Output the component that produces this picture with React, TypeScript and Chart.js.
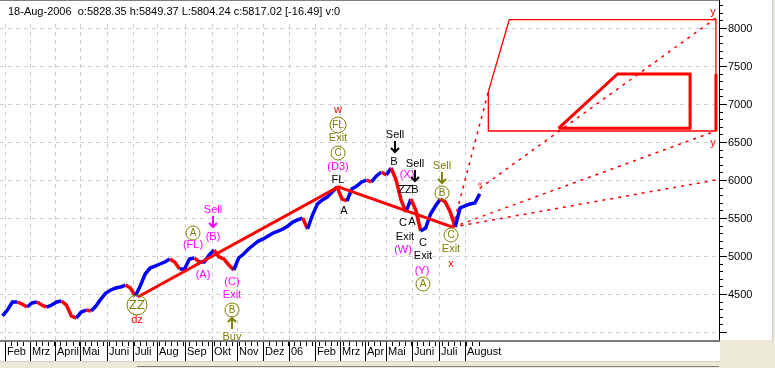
import React, { useEffect, useRef } from 'react';
import { Chart, registerables } from 'chart.js';
Chart.register(...registerables);

// ---------- data ----------
const headerText = '18-Aug-2006  o:5828.35 h:5849.37 L:5804.24 c:5817.02 [-16.49] v:0';

// closes sampled every 4 trading days, starting at trading day 2 (late Jan 2005)
const startDay = 2;
const dayStep = 4;
const closes = [
  4211, 4289, 4395, 4395, 4368, 4329, 4382, 4395, 4355, 4329,
  4355, 4395, 4408, 4355, 4211, 4184, 4263, 4289, 4276, 4342,
  4434, 4513, 4553, 4579, 4592, 4618, 4579, 4474, 4605, 4763,
  4842, 4868, 4895, 4921, 4961, 4921, 4829, 4829, 4961, 4974,
  4921, 4921, 5013, 5079, 4987, 4961, 4882, 4816, 4974, 5026,
  5092, 5145, 5197, 5224, 5263, 5303, 5329, 5355, 5395, 5447,
  5474, 5500, 5355, 5539, 5684, 5737, 5776, 5842, 5908, 5750,
  5724, 5882, 5921, 5974, 6000, 5974, 6053, 6105, 6066, 6158,
  6000, 5737, 5579, 5750, 5605, 5329, 5368, 5553, 5658, 5750,
  5711, 5579, 5382, 5632, 5658, 5684, 5697, 5817,
];

const monthLabels = ['Feb', 'Mrz', 'April', 'Mai', 'Juni', 'Juli', 'Aug', 'Sep', 'Okt', 'Nov', 'Dez', '06', 'Feb', 'Mrz', 'Apr', 'Mai', 'Juni', 'Juli', 'August'];
const monthDays = [4, 24, 45, 65, 87, 108, 128, 150, 172, 193, 214, 235, 256, 276, 297, 314, 335, 357, 378];

const yLabelValues = [4500, 5000, 5500, 6000, 6500, 7000, 7500, 8000];
const yGridValues = [4000, 4500, 5000, 5500, 6000, 6500, 7000, 7500, 8000];

// wave count zig-zag
const zigzagDays = [112, 275, 368];
const zigzagValues = [4460, 5910, 5380];

// projection target zones
const bigZoneDays = [397, 414, 582, 582, 397, 397];
const bigZoneValues = [7162, 8109, 8109, 6645, 6645, 7162];
const innerZoneDays = [454, 502, 561, 561, 454];
const innerZoneValues = [6680, 7395, 7395, 6680, 6680];
const edgeBarDays = [582, 582];
const edgeBarValues = [6645, 7395];

// projection fan lines: [fromDay, fromValue, toDay, toValue]
const fanLines = [
  [368, 5380, 397, 7162],
  [368, 5380, 582, 6645],
  [368, 5380, 582, 6000],
  [390, 5890, 582, 8130],
];

// annotations: [text, day, value, colourKey, kind]
// kind: t = text, c = circled, d = down arrow, u = up arrow, z = overlined, s = small
const annotations = [
  ['Sell', 173, 5605, 'm', 't'], ['', 173, 5447, 'm', 'd'], ['(B)', 173, 5250, 'm', 't'],
  ['A', 157, 5303, 'o', 'c'], ['(FL)', 157, 5145, 'm', 't'],
  ['(A)', 165, 4750, 'm', 't'],
  ['(C)', 189, 4658, 'm', 't'], ['Exit', 189, 4487, 'm', 't'], ['B', 189, 4289, 'o', 'c'],
  ['', 189, 4118, 'o', 'u'], ['Buy', 189, 3935, 'o', 't'],
  ['ZZ', 111, 4355, 'o', 'c'], ['dz', 111, 4158, 'r', 't'],
  ['w', 275, 6921, 'r', 't'], ['FL', 275, 6724, 'o', 'c'], ['Exit', 275, 6553, 'o', 't'],
  ['C', 275, 6355, 'o', 'c'], ['(D3)', 275, 6171, 'm', 't'],
  ['FL', 275, 6000, 'k', 't'], ['A', 280, 5592, 'k', 't'],
  ['Sell', 321, 6592, 'k', 't'], ['', 321, 6434, 'k', 'd'], ['B', 320, 6237, 'k', 't'],
  ['(X)', 331, 6066, 'm', 't'],
  ['Sell', 337, 6211, 'k', 't'], ['', 337, 6053, 'k', 'd'],
  ['ZZ', 329, 5868, 'k', 'z'], ['B', 337, 5868, 'k', 't'],
  ['C', 328, 5434, 'k', 't'], ['A', 335, 5447, 'k', 't'],
  ['Exit', 329, 5250, 'k', 't'], ['(W)', 328, 5079, 'm', 't'],
  ['C', 344, 5171, 'k', 't'], ['Exit', 344, 5000, 'k', 't'],
  ['(Y)', 343, 4803, 'm', 't'], ['A', 344, 4632, 'o', 'c'],
  ['Sell', 359, 6184, 'o', 't'], ['', 359, 6026, 'o', 'd'], ['B', 359, 5829, 'o', 'c'],
  ['C', 367, 5276, 'o', 'c'], ['Exit', 367, 5092, 'o', 't'], ['x', 367, 4895, 'r', 't'],
  ['\u00ab', 390, 5934, 'r', 's'],
  ['y', 580, 8210, 'r', 't'], ['y', 580, 6487, 'r', 't'],
];

const colours: Record<string, string> = { m: '#FF00FF', o: '#808000', r: '#FF0000', k: '#000000' };
const FONT = '"Liberation Sans", Arial, sans-serif';

const decoPlugin = {
  id: 'deco',
  beforeDraw(chart: any) {
    const { ctx, chartArea: ca, scales } = chart;
    const x = scales.x, y = scales.y;
    ctx.save();
    ctx.fillStyle = '#FFFFFF';
    ctx.fillRect(0, 0, chart.width, chart.height);
    ctx.strokeStyle = '#CFCFCF';
    ctx.lineWidth = 1;
    ctx.setLineDash([4, 4]);
    for (const v of yGridValues) {
      const py = Math.round(y.getPixelForValue(v)) + 0.5;
      ctx.beginPath(); ctx.moveTo(ca.left, py); ctx.lineTo(ca.right - 2, py); ctx.stroke();
    }
    for (const d of monthDays) {
      const px = Math.round(x.getPixelForValue(d)) + 0.5;
      ctx.beginPath(); ctx.moveTo(px, y.getPixelForValue(8000) - 4); ctx.lineTo(px, ca.bottom); ctx.stroke();
    }
    ctx.restore();
  },
  afterDatasetsDraw(chart: any) {
    const { ctx, chartArea: ca, scales } = chart;
    const x = scales.x, y = scales.y;
    ctx.save();
    ctx.beginPath();
    ctx.rect(ca.left, ca.top, ca.right - ca.left, ca.bottom - ca.top);
    ctx.clip();
    ctx.textAlign = 'center';
    ctx.textBaseline = 'middle';
    for (const a of annotations) {
      const [text, d, v, ck, kind] = a as [string, number, number, string, string];
      const px = Math.round(x.getPixelForValue(d));
      const py = Math.round(y.getPixelForValue(v));
      const col = colours[ck];
      ctx.fillStyle = col;
      ctx.strokeStyle = col;
      ctx.setLineDash([]);
      if (kind === 't') {
        ctx.font = `11px ${FONT}`;
        ctx.fillText(text, px, py);
      } else if (kind === 's') {
        ctx.font = `9px ${FONT}`;
        ctx.fillText(text, px, py);
      } else if (kind === 'z') {
        ctx.font = `11px ${FONT}`;
        ctx.fillText(text, px, py);
        ctx.lineWidth = 1;
        ctx.beginPath(); ctx.moveTo(px - 7, py - 4.5); ctx.lineTo(px + 8, py - 4.5); ctx.stroke();
      } else if (kind === 'c') {
        const r = text.length > 1 ? (text === 'ZZ' ? 10 : 8) : 7;
        ctx.lineWidth = 1;
        ctx.beginPath(); ctx.arc(px, py, r, 0, Math.PI * 2); ctx.stroke();
        ctx.font = `${text === 'ZZ' ? 13 : 10}px ${FONT}`;
        ctx.fillText(text, px, py + 0.5);
      } else {
        const dir = kind === 'd' ? 1 : -1;
        ctx.lineWidth = 2;
        ctx.beginPath(); ctx.moveTo(px, py - 6 * dir); ctx.lineTo(px, py + 5 * dir); ctx.stroke();
        ctx.beginPath(); ctx.moveTo(px - 4, py + 1 * dir); ctx.lineTo(px, py + 5 * dir); ctx.lineTo(px + 4, py + 1 * dir); ctx.stroke();
      }
    }
    ctx.restore();
  },
  afterDraw(chart: any) {
    const { ctx, chartArea: ca, scales } = chart;
    const x = scales.x, y = scales.y;
    const W = chart.width, H = chart.height;
    ctx.save();
    // header
    ctx.fillStyle = '#000';
    ctx.font = `11px ${FONT}`;
    ctx.textAlign = 'left';
    ctx.textBaseline = 'middle';
    ctx.fillText(headerText, 8, 12);
    // top frame line
    ctx.fillStyle = '#808080';
    ctx.fillRect(0, 0, ca.right, 1);
    // right panel
    ctx.fillStyle = '#FFFFFF';
    ctx.fillRect(ca.right + 1, 0, W - ca.right - 1, ca.bottom);
    ctx.fillStyle = '#C8C8C8';
    ctx.fillRect(772, 0, 1, ca.bottom);
    ctx.fillStyle = '#ECE9D8';
    ctx.fillRect(773, 0, 2, ca.bottom);
    // x axis panel
    ctx.fillStyle = '#FFFFFF';
    ctx.fillRect(0, ca.bottom, ca.right + 1, 21);
    ctx.fillStyle = '#7A7A7A';
    ctx.fillRect(0, ca.bottom, ca.right + 1, 2);
    ctx.fillStyle = '#ECE9D8';
    ctx.fillRect(ca.right + 1, ca.bottom, W - ca.right - 1, H - ca.bottom);
    ctx.fillRect(0, ca.bottom + 22, ca.right + 1, H - ca.bottom - 22);
    ctx.fillStyle = '#D4D0C8';
    ctx.fillRect(0, ca.bottom + 21, ca.right + 1, 1);
    ctx.fillStyle = '#808080';
    ctx.fillRect(137, H - 2, ca.right - 137, 1);
    // x ticks
    ctx.fillStyle = '#000';
    const lastDay = startDay + dayStep * (closes.length - 1);
    for (let d = monthDays[0]; d <= lastDay + 2; d += 5) {
      const px = Math.round(x.getPixelForValue(d));
      ctx.fillRect(px, ca.bottom + 2, 1, 4);
    }
    ctx.textAlign = 'left';
    monthDays.forEach((d, i) => {
      const px = Math.round(x.getPixelForValue(d));
      ctx.fillRect(px, ca.bottom + 2, 1, 19);
      ctx.fillText(monthLabels[i], px + 2, ca.bottom + 12);
    });
    // y axis
    ctx.fillRect(ca.right, 0, 1, ca.bottom);
    for (let v = 4000; v <= 8300; v += 100) {
      const py = Math.round(y.getPixelForValue(v));
      const major = v % 500 === 0;
      ctx.fillRect(ca.right, py, major ? 8 : 4, 1);
    }
    for (const v of yLabelValues) {
      const py = Math.round(y.getPixelForValue(v));
      ctx.fillText(String(v), ca.right + 9, py + 0.5);
    }
    ctx.restore();
  },
};

export default function App() {
  const ref = useRef<HTMLCanvasElement>(null);
  useEffect(() => {
    document.body.style.margin = '0';
    const pts = (ds: number[], vs: number[]) => ds.map((d, i) => ({ x: d, y: vs[i] }));
    const dotted = fanLines.map((f) => ({
      data: [{ x: f[0], y: f[1] }, { x: f[2], y: f[3] }],
      borderColor: '#FF0000', borderWidth: 1.5, borderDash: [3, 5], pointRadius: 0, order: 2,
    }));
    const chart = new Chart(ref.current!, {
      type: 'line',
      data: {
        datasets: [
          { data: pts(zigzagDays, zigzagValues), borderColor: '#FF0000', borderWidth: 3, pointRadius: 0, order: 0 },
          { data: pts(innerZoneDays, innerZoneValues), borderColor: '#FF0000', borderWidth: 3, pointRadius: 0, order: 1 },
          { data: pts(bigZoneDays, bigZoneValues), borderColor: '#FF0000', borderWidth: 1.3, pointRadius: 0, order: 1 },
          { data: pts(edgeBarDays, edgeBarValues), borderColor: '#FF0000', borderWidth: 3, pointRadius: 0, order: 1 },
          ...dotted,
          {
            data: closes.map((c, i) => ({ x: startDay + i * dayStep, y: c })),
            borderColor: '#0000FF', borderWidth: 3.5, pointRadius: 0, order: 5,
            segment: { borderColor: (c: any) => (c.p1.parsed.y >= c.p0.parsed.y ? '#0000FF' : '#FF0000') },
          },
        ] as any,
      },
      options: {
        animation: false,
        responsive: false,
        events: [],
        layout: { padding: { left: 0, right: 56, top: 1, bottom: 28 } },
        elements: { line: { tension: 0, borderCapStyle: 'butt', borderJoinStyle: 'miter' } },
        scales: {
          x: { type: 'linear', min: 0, max: 584.5, display: false },
          y: { type: 'linear', min: 3895, max: 8355, display: false },
        },
        plugins: { legend: { display: false }, tooltip: { enabled: false } },
      },
      plugins: [decoPlugin],
    });
    return () => chart.destroy();
  }, []);
  return (
    <div style={{ width: 775, height: 368 }}>
      <canvas ref={ref} width={775} height={368} style={{ display: 'block' }} />
    </div>
  );
}
